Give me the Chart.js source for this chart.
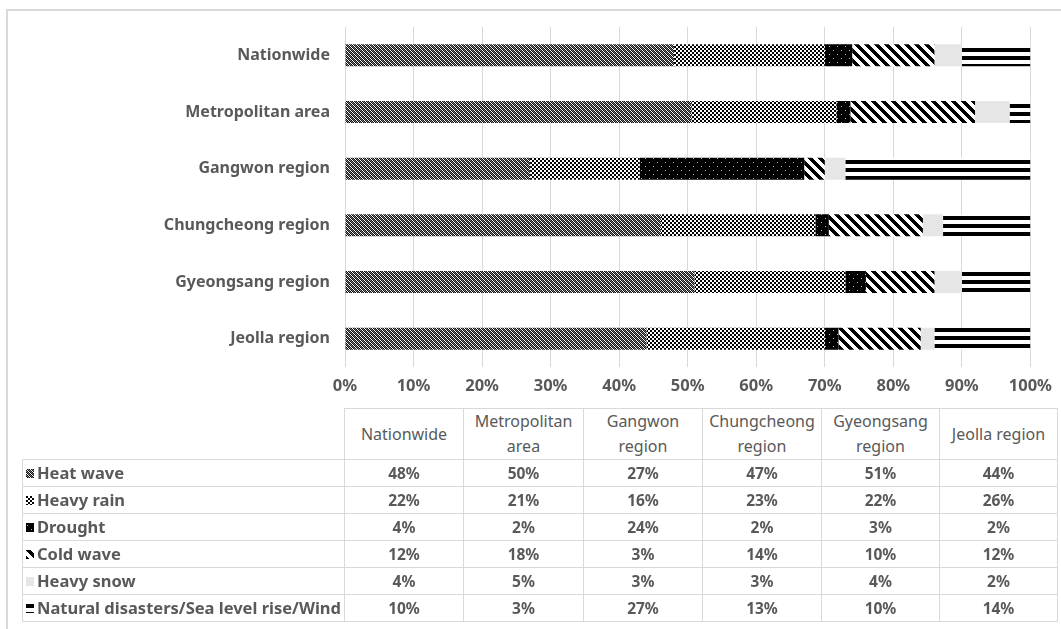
<!DOCTYPE html>
<html>
<head>
<meta charset="utf-8">
<script src="https://cdn.jsdelivr.net/npm/chart.js"></script>
<style>
  html, body { margin: 0; padding: 0; background: #fff; overflow: hidden; }
  body { width: 1061px; height: 629px; position: relative; font-family: "Noto Sans", sans-serif; color: #595959; }
  #frame { position: absolute; left: 6px; top: 9px; width: 1070px; height: 640px; border: 2px solid #d9d9d9; }
  #wrap { position: absolute; left: 0; top: 0; width: 1061px; height: 400px; }
  #tbl { position: absolute; left: 22px; top: 408px; border-collapse: collapse; table-layout: fixed; font-size: 15.5px; }
  #tbl td { border: 1px solid #d9d9d9; text-align: center; padding: 0; height: 26px; line-height: 16px; font-weight: bold; }
  #tbl tr.head td { height: 50px; line-height: 25px; font-weight: normal; font-size: 16px; }
  #tbl td.corner { border: none; }
  #tbl td.rowh { text-align: left; padding-left: 3px; white-space: nowrap; font-size: 16.5px; }
  #tbl td.rowh canvas { vertical-align: 1px; margin-right: 3px; }
</style>
</head>
<body>
<div id="frame"></div>
<div id="wrap"><canvas id="chart" width="1061" height="400"></canvas></div>
<table id="tbl"></table>
<script>
const regions = ["Nationwide", "Metropolitan area", "Gangwon region", "Chungcheong region", "Gyeongsang region", "Jeolla region"];
const tableHeads = ["Nationwide", "Metropolitan<br>area", "Gangwon<br>region", "Chungcheong<br>region", "Gyeongsang<br>region", "Jeolla region"];
const hazards = ["Heat wave", "Heavy rain", "Drought", "Cold wave", "Heavy snow", "Natural disasters/Sea level rise/Wind"];

const heatWave = [48, 50, 27, 47, 51, 44];
const heavyRain = [22, 21, 16, 23, 22, 26];
const drought = [4, 2, 24, 2, 3, 2];
const coldWave = [12, 18, 3, 14, 10, 12];
const heavySnow = [4, 5, 3, 3, 4, 2];
const naturalEtc = [10, 3, 27, 13, 10, 14];

const xTicks = [0, 10, 20, 30, 40, 50, 60, 70, 80, 90, 100];

const series = [heatWave, heavyRain, drought, coldWave, heavySnow, naturalEtc];

// little pattern tiles, roughly like the Excel fills
function tile(size, draw) {
  const c = document.createElement("canvas");
  c.width = size; c.height = size;
  draw(c.getContext("2d"), size);
  return c;
}
const px = (g, x, y, col) => { g.fillStyle = col; g.fillRect(x, y, 1, 1); };

const tiles = [
  tile(4, (g) => {            // heat wave: dark dither with diagonal
    g.fillStyle = "#111"; g.fillRect(0, 0, 4, 4);
    for (let i = 0; i < 4; i++) { px(g, i, i, "#fff"); px(g, (i + 2) % 4, i, "#777"); }
  }),
  tile(4, (g) => {            // heavy rain: checker
    g.fillStyle = "#fff"; g.fillRect(0, 0, 4, 4);
    g.fillStyle = "#000"; g.fillRect(0, 0, 2, 2); g.fillRect(2, 2, 2, 2);
  }),
  tile(8, (g) => {            // drought: black with dots
    g.fillStyle = "#000"; g.fillRect(0, 0, 8, 8);
    px(g, 1, 2, "#bbb"); px(g, 5, 6, "#bbb");
  }),
  tile(10, (g) => {           // cold wave: wide downward diagonal
    g.fillStyle = "#fff"; g.fillRect(0, 0, 10, 10);
    for (let y = 0; y < 10; y++) for (let x = 0; x < 10; x++) if (((x - y) % 10 + 10) % 10 < 5) px(g, x, y, "#000");
  }),
  tile(4, (g) => { g.fillStyle = "#e6e6e6"; g.fillRect(0, 0, 4, 4); }),
  tile(8, (g) => {            // natural disasters: horizontal lines
    g.fillStyle = "#fff"; g.fillRect(0, 0, 8, 8);
    g.fillStyle = "#000"; g.fillRect(0, 0, 8, 4);
  })
];

const ctx = document.getElementById("chart").getContext("2d");
const patterns = tiles.map(t => ctx.createPattern(t, "repeat"));

// 100% stacked: share of each row total
const totals = regions.map((_, i) => series.reduce((s, arr) => s + arr[i], 0));

new Chart(ctx, {
  type: "bar",
  data: {
    labels: regions,
    datasets: hazards.map((h, k) => ({
      label: h,
      data: series[k].map((v, i) => v / totals[i] * 100),
      backgroundColor: patterns[k],
      borderWidth: 0,
      categoryPercentage: 0.4,
      barPercentage: 0.97
    }))
  },
  options: {
    indexAxis: "y",
    responsive: false,
    animation: false,
    layout: { padding: { top: 27, right: 25, left: 0, bottom: 0 } },
    plugins: { legend: { display: false }, tooltip: { enabled: false } },
    scales: {
      x: {
        stacked: true, min: 0, max: 100,
        afterFit: (s) => { s.height = 33; },
        afterBuildTicks: (s) => { s.ticks = xTicks.map(v => ({ value: v })); },
        grid: { color: "#d9d9d9", drawTicks: false },
        border: { display: false },
        ticks: { padding: 9, color: "#595959", font: { family: "Noto Sans", size: 16.5, weight: "bold" }, callback: (v) => v + "%" }
      },
      y: {
        stacked: true,
        afterFit: (s) => { s.width = 345; },
        grid: { display: false, drawTicks: false },
        border: { display: false },
        ticks: { padding: 15, color: "#595959", font: { family: "Noto Sans", size: 16, weight: "bold" } }
      }
    }
  }
});

// data table under the chart
const tbl = document.getElementById("tbl");
const colW = [322, 119, 120, 119, 119, 118, 118];
let html = "<colgroup>" + colW.map(w => `<col style="width:${w}px">`).join("") + "</colgroup>";
html += '<tr class="head"><td class="corner"></td>' + tableHeads.map(h => `<td>${h}</td>`).join("") + "</tr>";
hazards.forEach((h, k) => {
  html += `<tr><td class="rowh"><canvas class="sw" data-k="${k}" width="8" height="9"></canvas>${h}</td>` +
    series[k].map(v => `<td>${v}%</td>`).join("") + "</tr>";
});
tbl.innerHTML = html;
document.querySelectorAll("canvas.sw").forEach(c => {
  const g = c.getContext("2d");
  g.fillStyle = g.createPattern(tiles[+c.dataset.k], "repeat");
  g.fillRect(0, 0, c.width, c.height);
});
</script>
</body>
</html>
